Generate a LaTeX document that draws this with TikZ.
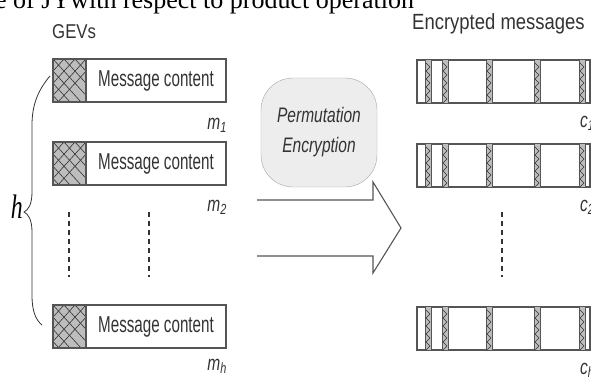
\documentclass[tikz,border=0pt]{standalone}
\usepackage{fontspec}
\setmainfont{Liberation Serif}
\newfontfamily\msgfont[FakeStretch=0.66]{Liberation Sans}
\newfontfamily\headfont[FakeStretch=0.84]{Liberation Sans}
\newfontfamily\permfont[FakeStretch=0.74]{Liberation Sans}
\newfontfamily\hfont[FakeStretch=0.7]{Liberation Serif}
\definecolor{inkgray}{HTML}{333333}
\definecolor{linegray}{HTML}{555555}
\definecolor{hatchgray}{HTML}{BDBDBD}
\definecolor{permfill}{HTML}{EDEDED}

\begin{document}
\begin{tikzpicture}[x=1pt, y=-1pt,
    msgbox/.style={draw=linegray, line width=1.2pt, minimum width=173pt, minimum height=43pt, inner sep=0pt},
    permbox/.style={draw=gray!70, fill=permfill, rounded corners=32pt, minimum width=116pt, minimum height=109pt, align=center, text=inkgray, font=\permfont\itshape\fontsize{21}{30}\selectfont},
    lab/.style={text=inkgray, inner sep=0pt, font=\permfont\itshape\fontsize{21}{24}\selectfont},
    arrowline/.style={draw=linegray, line width=1.1pt, line join=miter},
    dotline/.style={inkgray, line width=2.2pt, dash pattern=on 5pt off 4pt}]
    % Frame of the picture
    \useasboundingbox (0,0) rectangle (591,378);
    \clip (0,0) rectangle (591,378);

    % Parameters
    \def\hatchw{33}
    \def\boxh{43}

    % Caption line cut by the top edge
    \node[anchor=base west, inner sep=0pt, text=black, font=\fontsize{26}{30}\selectfont] (caption) at (-5,8) {e of JYwith respect to product operation};

    % Headers
    \node[anchor=base west, inner sep=0pt, text=inkgray, font=\headfont\fontsize{20}{24}\selectfont] (gevs) at (52,38) {GEVs};
    \node[anchor=base west, inner sep=0pt, text=inkgray, font=\headfont\fontsize{22}{26}\selectfont] (enc) at (412,29) {Encrypted messages};

    % Draw GEV message boxes
    \foreach \i/\ytop/\lab/\ylab in {1/59/1/129, 2/142/2/211, 3/305/h/370} {
        \begin{scope}
            \clip (53,\ytop) rectangle ++(\hatchw,\boxh);
            \fill[hatchgray] (53,\ytop) rectangle ++(\hatchw,\boxh);
            \foreach \k in {-4,...,4} {
                \draw[inkgray, line width=.6pt] (53+\k*11,\ytop) -- ++(39,\boxh);
                \draw[inkgray, line width=.6pt] (53+\k*11,\ytop) -- ++(-39,\boxh);
            }
        \end{scope}
        \node[msgbox] (m\i) at (139.5,\ytop+21.5) {};
        \draw[linegray, line width=1.2pt] (53+\hatchw,\ytop) -- ++(0,\boxh);
        \node[text=inkgray, font=\msgfont\fontsize{23}{26}\selectfont] (t\i) at (156,\ytop+21.5) {Message content};
        \node[lab, anchor=base east] (lm\i) at (227,\ylab) {m\textsubscript{\lab}};
    }

    % Draw encrypted message boxes
    \foreach \i/\ytop/\lab in {1/60/1, 2/144/2, 3/307/h} {
        \node[msgbox] (c\i) at (503.5,\ytop+21.5) {};
        \foreach \sx in {425,442,486,534,579} {
            \fill[hatchgray] (\sx,\ytop) rectangle ++(6,\boxh);
            \draw[linegray, line width=.6pt] (\sx,\ytop) -- ++(0,\boxh) (\sx+6,\ytop) -- ++(0,\boxh);
            \foreach \k in {0,...,4} {
                \draw[inkgray, line width=.5pt] (\sx+1,\ytop+3+\k*8) -- (\sx+5,\ytop+7+\k*8) -- (\sx+1,\ytop+11+\k*8);
            }
        }
        \node[lab, anchor=base west] (lc\i) at (580,\ytop+67) {c\textsubscript{\lab}};
    }

    % Dotted continuation
    \draw[dotline] (69,212) -- (69,277);
    \draw[dotline] (149,212) -- (149,277);
    \draw[dotline] (502,212) -- (502,277);

    % Brace over the h messages
    \draw[inkgray, line width=.8pt] (50,76) .. controls (38,90) and (32,105) .. (32,125) -- (32,192)
        .. controls (32,205) and (28,210) .. (24,212) .. controls (28,214) and (32,219) .. (32,232)
        -- (32,295) .. controls (32,312) and (36,320) .. (42,325);
    \node[anchor=base east, inner sep=0pt, text=black, font=\hfont\itshape\fontsize{34}{36}\selectfont] (h) at (23,218) {h};

    % Permutation step
    \node[permbox] (perm) at (319,132.5) {Permutation\\Encryption};
    \draw[arrowline] (257,200) -- (373,200) -- (373,182) -- (401,228) -- (373,273) -- (373,256) -- (257,256);
\end{tikzpicture}
\end{document}
